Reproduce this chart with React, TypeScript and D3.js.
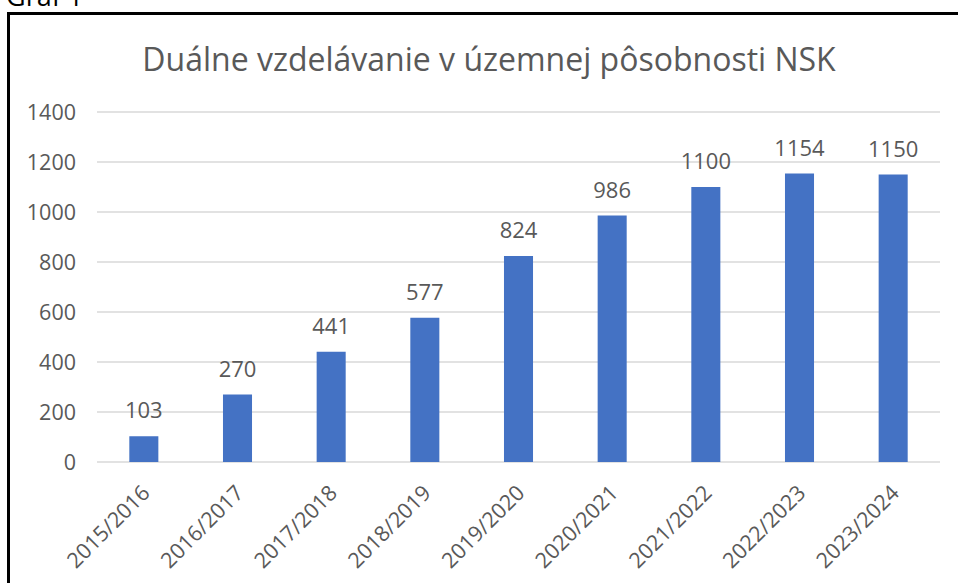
import React, { useEffect, useRef } from "react";
import * as d3 from "d3";

const categories = [
  "2015/2016", "2016/2017", "2017/2018", "2018/2019", "2019/2020",
  "2020/2021", "2021/2022", "2022/2023", "2023/2024",
];
const values = [103, 270, 441, 577, 824, 986, 1100, 1154, 1150];
const yTicks = [0, 200, 400, 600, 800, 1000, 1200, 1400];

const title = "Duálne vzdelávanie v územnej pôsobnosti NSK";
const caption = "Graf 1";

const width = 958;
const height = 583;
const font = "'Open Sans', 'Segoe UI', sans-serif";
const textColor = "#595959";
const barColor = "#4472C4";
const gridColor = "#d9d9d9";

const App: React.FC = () => {
  const ref = useRef<SVGSVGElement>(null);

  useEffect(() => {
    const svg = d3.select(ref.current);
    svg.selectAll("*").remove();

    // caption above the frame (cut off at the top)
    svg.append("text")
      .attr("x", 6)
      .attr("y", 6)
      .attr("font-family", font)
      .attr("font-size", 27)
      .attr("fill", "#000")
      .text(caption);

    // frame
    svg.append("rect")
      .attr("x", 8.5)
      .attr("y", 13.5)
      .attr("width", 1000)
      .attr("height", 1000)
      .attr("fill", "#fff")
      .attr("stroke", "#000")
      .attr("stroke-width", 3);

    const x = d3.scaleBand<string>()
      .domain(categories)
      .range([97, 940])
      .paddingInner(0.69)
      .paddingOuter(0.345);

    const y = d3.scaleLinear().domain([0, 1400]).range([462, 112]);

    // title
    svg.append("text")
      .attr("x", 489)
      .attr("y", 71)
      .attr("text-anchor", "middle")
      .attr("font-family", font)
      .attr("font-size", 32)
      .attr("fill", textColor)
      .text(title);

    // gridlines
    svg.append("g")
      .selectAll("line")
      .data(yTicks)
      .enter()
      .append("line")
      .attr("x1", 97)
      .attr("x2", 940)
      .attr("y1", (d) => y(d))
      .attr("y2", (d) => y(d))
      .attr("stroke", gridColor)
      .attr("stroke-width", 1.5);

    // y labels
    svg.append("g")
      .selectAll("text")
      .data(yTicks)
      .enter()
      .append("text")
      .attr("x", 76)
      .attr("y", (d) => y(d))
      .attr("dy", "0.36em")
      .attr("text-anchor", "end")
      .attr("font-family", font)
      .attr("font-size", 21.5)
      .attr("fill", textColor)
      .text((d) => d);

    // bars
    svg.append("g")
      .selectAll("rect")
      .data(values)
      .enter()
      .append("rect")
      .attr("x", (d, i) => x(categories[i])!)
      .attr("y", (d) => y(d))
      .attr("width", x.bandwidth())
      .attr("height", (d) => y(0) - y(d))
      .attr("fill", barColor);

    // value labels
    svg.append("g")
      .selectAll("text")
      .data(values)
      .enter()
      .append("text")
      .attr("x", (d, i) => x(categories[i])! + x.bandwidth() / 2)
      .attr("y", (d) => y(d) - 18)
      .attr("text-anchor", "middle")
      .attr("font-family", font)
      .attr("font-size", 22)
      .attr("fill", textColor)
      .text((d) => d);

    // category labels, rotated
    svg.append("g")
      .selectAll("text")
      .data(categories)
      .enter()
      .append("text")
      .attr("transform", (d) => `translate(${x(d)! + x.bandwidth() / 2 + 2}, 489) rotate(-45)`)
      .attr("dy", "0.35em")
      .attr("text-anchor", "end")
      .attr("font-family", font)
      .attr("font-size", 21.5)
      .attr("fill", textColor)
      .text((d) => d);
  }, []);

  return <svg ref={ref} width={width} height={height} style={{ display: "block", position: "absolute", left: 0, top: 0 }} />;
};

export default App;
